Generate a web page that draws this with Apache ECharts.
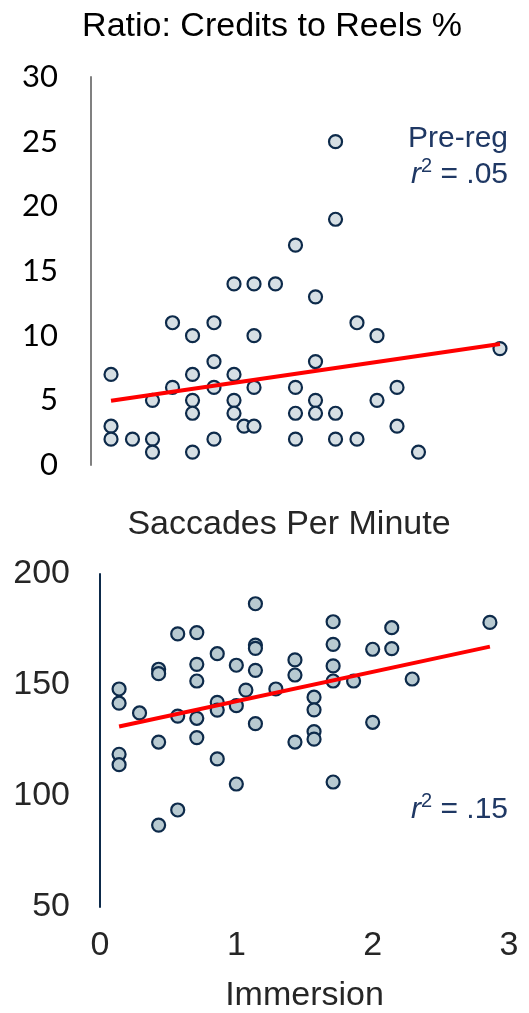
<!DOCTYPE html>
<html>
<head>
<meta charset="utf-8">
<script src="https://cdn.jsdelivr.net/npm/echarts@6/dist/echarts.min.js"></script>
<style>html,body{margin:0;padding:0;background:#fff}#c{width:529px;height:1013px}</style>
</head>
<body>
<div id="c"></div>
<script>
// ---- Data ----
const topTitle = 'Ratio: Credits to Reels %';
const bottomTitle = 'Saccades Per Minute';
const xName = 'Immersion';

const topX = [0.14,0.14,0.14, 0.29, 0.43,0.43,0.43, 0.57,0.57, 0.71,0.71,0.71,0.71,0.71,
  0.86,0.86,0.86,0.86, 1.0,1.0,1.0,1.0, 1.07, 1.14,1.14,1.14,1.14, 1.29,
  1.43,1.43,1.43,1.43, 1.57,1.57,1.57,1.57, 1.71,1.71,1.71,1.71, 1.86,1.86,
  2.0,2.0, 2.14,2.14, 2.29, 2.86];
const topY = [7,3,2, 2, 5,2,1, 11,6, 10,7,5,4,1,
  11,8,6,2, 14,7,5,4, 3, 14,10,6,3, 14,
  17,6,4,2, 13,8,5,4, 25,19,4,2, 11,2,
  10,5, 6,3, 1, 9];
const topTrendX = [0.14, 2.86];
const topTrendY = [4.97, 9.36];

const botX = [0.14,0.14,0.14,0.14, 0.29, 0.43,0.43,0.43,0.43, 0.57,0.57,0.57,
  0.71,0.71,0.71,0.71,0.71, 0.86,0.86,0.86,0.86, 1.0,1.0,1.0, 1.07,
  1.14,1.14,1.14,1.14,1.14, 1.29, 1.43,1.43,1.43, 1.57,1.57,1.57,1.57,
  1.71,1.71,1.71,1.71,1.71, 1.86, 2.0,2.0, 2.14,2.14, 2.29, 2.86];
const botY = [148.2,141.8,118.8,114.1, 137.4, 157.1,155.1,124.3,86.9, 173,136,93.7,
  173.6,159.3,151.8,135,126.3, 164.1,142.2,138.7,116.7, 158.9,140.7,105.4, 147.7,
  186.6,168,166.5,156.6,132.6, 148.2, 161.3,154.5,124.3, 144.5,138.8,129,125.6,
  178.5,168.3,158.6,151.8,106.3, 151.8, 166.1,133.2, 175.8,166.4, 152.7, 178.2];
const botTrendX = [0.14, 2.86];
const botTrendY = [131.3, 167.3];

const xTicks = [0, 1, 2, 3];
const topYTicks = [0, 5, 10, 15, 20, 25, 30];
const botYTicks = [50, 100, 150, 200];

const topNote1 = 'Pre-reg';
const topR2 = '.05';
const botR2 = '.15';

// ---- Build ----
const zip = (a, b) => a.map((v, i) => [v, b[i]]);
const navy = '#0d2a4a';
const noteColor = '#1f3864';
const chart = echarts.init(document.getElementById('c'));
const arial = '"Liberation Sans", Arial, sans-serif';

const r2Rich = {
  i: { fontFamily: arial, fontStyle: 'italic', fontSize: 30, fill: noteColor, lineHeight: 34, verticalAlign: 'bottom' },
  s: { fontFamily: arial, fontSize: 20, fill: noteColor, lineHeight: 20, verticalAlign: 'top' },
  n: { fontFamily: arial, fontSize: 30, fill: noteColor, lineHeight: 34, verticalAlign: 'bottom' }
};

chart.setOption({
  animation: false,
  backgroundColor: '#fff',
  title: [
    { text: topTitle, left: 267, top: 5, textAlign: 'center',
      textStyle: { fontFamily: arial, fontSize: 34, fontWeight: 'normal', color: '#000' } },
    { text: bottomTitle, left: 284, top: 503, textAlign: 'center',
      textStyle: { fontFamily: arial, fontSize: 34, fontWeight: 'normal', color: '#262626' } }
  ],
  grid: [
    { left: 91, right: 9, top: 77, height: 388, outerBoundsMode: 'none', containLabel: false },
    { left: 100, right: 20, top: 574, height: 333, outerBoundsMode: 'none', containLabel: false }
  ],
  xAxis: [
    { type: 'value', gridIndex: 0, min: 0, max: 3, interval: 1, show: false },
    { type: 'value', gridIndex: 1, min: xTicks[0], max: xTicks[xTicks.length-1], interval: 1,
      name: xName, nameLocation: 'middle', nameGap: 72,
      nameTextStyle: { fontFamily: arial, fontSize: 34, color: '#262626' },
      axisLine: { show: false }, axisTick: { show: false }, splitLine: { show: false },
      axisLabel: { margin: 22, fontFamily: arial, fontSize: 34, color: '#262626' } }
  ],
  yAxis: [
    { type: 'value', gridIndex: 0, min: topYTicks[0], max: topYTicks[topYTicks.length-1], interval: 5,
      axisLine: { show: true, lineStyle: { color: '#808080', width: 2 } },
      axisTick: { show: false }, splitLine: { show: false },
      axisLabel: { margin: 33, fontFamily: 'Lato, "Open Sans", sans-serif', fontSize: 31, color: '#000' } },
    { type: 'value', gridIndex: 1, min: botYTicks[0], max: botYTicks[botYTicks.length-1], interval: 50,
      axisLine: { show: true, lineStyle: { color: navy, width: 2 } },
      axisTick: { show: false }, splitLine: { show: false },
      axisLabel: { margin: 30, fontFamily: arial, fontSize: 34, color: '#262626' } }
  ],
  series: [
    { type: 'scatter', xAxisIndex: 0, yAxisIndex: 0, data: zip(topX, topY),
      symbolSize: 13, itemStyle: { color: '#d6dfe4', borderColor: navy, borderWidth: 2.2, opacity: 1 }, z: 2 },
    { type: 'line', xAxisIndex: 0, yAxisIndex: 0, data: zip(topTrendX, topTrendY),
      showSymbol: false, lineStyle: { color: '#ff0000', width: 4 }, z: 3 },
    { type: 'scatter', xAxisIndex: 1, yAxisIndex: 1, data: zip(botX, botY),
      symbolSize: 13, itemStyle: { color: '#b8cad1', borderColor: navy, borderWidth: 2.2, opacity: 1 }, z: 2 },
    { type: 'line', xAxisIndex: 1, yAxisIndex: 1, data: zip(botTrendX, botTrendY),
      showSymbol: false, lineStyle: { color: '#ff0000', width: 4 }, z: 3 }
  ],
  graphic: [
    { type: 'text', right: 21, top: 124, style: { text: topNote1, font: '30px "Liberation Sans", Arial, sans-serif', fill: noteColor } },
    { type: 'text', right: 21, top: 156, style: { text: '{i|r}{s|2}{n| = ' + topR2 + '}', rich: r2Rich } },
    { type: 'text', right: 21, top: 791, style: { text: '{i|r}{s|2}{n| = ' + botR2 + '}', rich: r2Rich } }
  ]
});
</script>
</body>
</html>
